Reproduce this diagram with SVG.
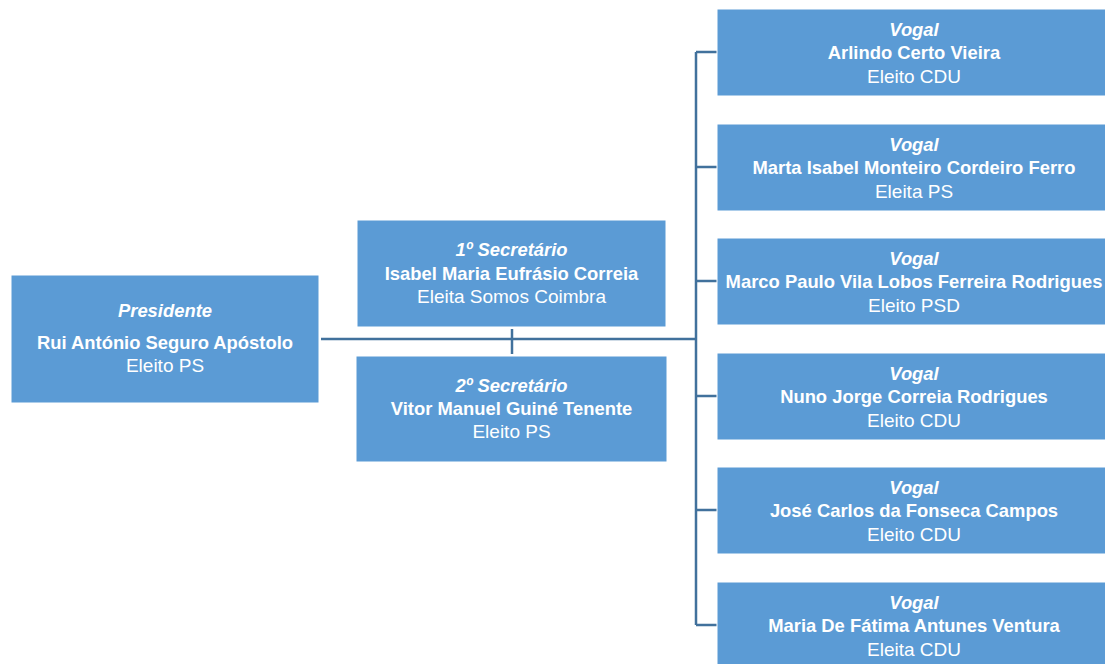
<svg xmlns="http://www.w3.org/2000/svg" width="1105" height="664" viewBox="0 0 1105 664">
<style>
.box{fill:#5B9BD5;stroke:#FFFFFF;stroke-width:1}
.t{font-family:"Liberation Sans",Arial,sans-serif;font-size:19px;fill:#FFFFFF;text-anchor:middle}
.r{font-style:italic;font-weight:bold;font-size:18.4px}
.n{font-weight:bold;font-size:18.4px}
.c{fill:none;stroke:#41719C;stroke-width:2.5}
</style>
<rect width="1105" height="664" fill="#FFFFFF"/>
<g id="connectors">
<path class="c" d="M321 339 H696"/>
<path class="c" d="M512 329 V354"/>
<path class="c" d="M696 52 V625"/>
<path class="c" d="M696 52 H717 M696 167 H717 M696 281 H717 M696 396 H717 M696 510 H717 M696 625 H717"/>
</g>
<g id="presidente">
<rect class="box" x="11" y="275" width="308" height="128"/>
<text class="t r" x="165" y="317">Presidente</text>
<text class="t n" x="165" y="349">Rui António Seguro Apóstolo</text>
<text class="t" x="165" y="372">Eleito PS</text>
</g>
<g id="secretario1">
<rect class="box" x="357" y="220" width="309" height="107"/>
<text class="t r" x="511.5" y="256">1º Secretário</text>
<text class="t n" x="511.5" y="280">Isabel Maria Eufrásio Correia</text>
<text class="t" x="511.5" y="303">Eleita Somos Coimbra</text>
</g>
<g id="secretario2">
<rect class="box" x="356" y="356" width="311" height="106"/>
<text class="t r" x="511.5" y="392">2º Secretário</text>
<text class="t n" x="511.5" y="415">Vitor Manuel Guiné Tenente</text>
<text class="t" x="511.5" y="438">Eleito PS</text>
</g>
<g id="vogal1">
<rect class="box" x="717" y="9" width="394" height="87"/>
<text class="t r" x="914" y="36">Vogal</text>
<text class="t n" x="914" y="59">Arlindo Certo Vieira</text>
<text class="t" x="914" y="83">Eleito CDU</text>
</g>
<g id="vogal2">
<rect class="box" x="717" y="124" width="394" height="87"/>
<text class="t r" x="914" y="151">Vogal</text>
<text class="t n" x="914" y="174">Marta Isabel Monteiro Cordeiro Ferro</text>
<text class="t" x="914" y="198">Eleita PS</text>
</g>
<g id="vogal3">
<rect class="box" x="717" y="238" width="394" height="87"/>
<text class="t r" x="914" y="265">Vogal</text>
<text class="t n" x="914" y="288">Marco Paulo Vila Lobos Ferreira Rodrigues</text>
<text class="t" x="914" y="312">Eleito PSD</text>
</g>
<g id="vogal4">
<rect class="box" x="717" y="353" width="394" height="87"/>
<text class="t r" x="914" y="380">Vogal</text>
<text class="t n" x="914" y="403">Nuno Jorge Correia Rodrigues</text>
<text class="t" x="914" y="427">Eleito CDU</text>
</g>
<g id="vogal5">
<rect class="box" x="717" y="467" width="394" height="87"/>
<text class="t r" x="914" y="494">Vogal</text>
<text class="t n" x="914" y="517">José Carlos da Fonseca Campos</text>
<text class="t" x="914" y="541">Eleito CDU</text>
</g>
<g id="vogal6">
<rect class="box" x="717" y="582" width="394" height="87"/>
<text class="t r" x="914" y="609">Vogal</text>
<text class="t n" x="914" y="632">Maria De Fátima Antunes Ventura</text>
<text class="t" x="914" y="656">Eleita CDU</text>
</g>
</svg>
